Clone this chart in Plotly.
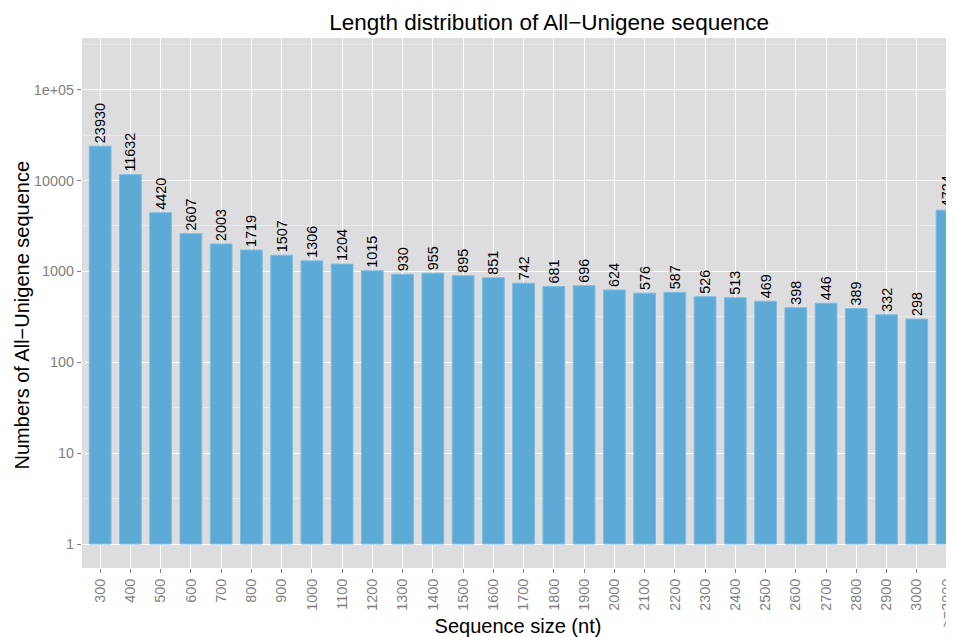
import plotly.graph_objects as go

# length bins (nt) and unigene counts
size_bins = ["300", "400", "500", "600", "700", "800", "900", "1000", "1100",
             "1200", "1300", "1400", "1500", "1600", "1700", "1800", "1900",
             "2000", "2100", "2200", "2300", "2400", "2500", "2600", "2700",
             "2800", "2900", "3000", ">=3000"]
unigene_counts = [23930, 11632, 4420, 2607, 2003, 1719, 1507, 1306, 1204,
                  1015, 930, 955, 895, 851, 742, 681, 696,
                  624, 576, 587, 526, 513, 469, 398, 446,
                  389, 332, 298, 4724]

y_tick_vals = [1, 10, 100, 1000, 10000, 100000]
y_tick_text = ["1", "10", "100", "1000", "10000", "1e+05"]
y_minor_vals = [10 ** (k + 0.5) for k in range(-1, 6)]

FONT = "Liberation Sans, Arial, sans-serif"
GREY_TXT = "#7f7f7f"

# the page body has an 8px margin, so the figure is sized to end at the window edge
fig = go.Figure()
fig.add_trace(
    go.Bar(
        x=size_bins,
        y=unigene_counts,
        base=1,
        width=0.72,
        marker=dict(color="#5daad7", line=dict(color="#7dbde2", width=1)),
        text=[str(v) for v in unigene_counts],
        textposition="outside",
        textangle=-90,
        constraintext="none",
        cliponaxis=False,
        textfont=dict(family=FONT, size=14.4, color="black"),
    )
)

# y title sits a little below the panel centre in the original, so use an annotation
fig.add_annotation(
    text="Numbers of All\u2212Unigene sequence",
    xref="paper", yref="paper",
    x=-0.0694, y=0.4774,
    xanchor="center", yanchor="middle",
    textangle=-90,
    showarrow=False,
    font=dict(family=FONT, size=20, color="black"),
)

fig.update_layout(
    width=946,
    height=629,
    margin=dict(l=74, r=0, t=30, b=69),
    paper_bgcolor="white",
    plot_bgcolor="#dddddf",
    showlegend=False,
    font=dict(family=FONT),
    title=dict(
        text="Length distribution of All\u2212Unigene sequence",
        x=0.572,
        xanchor="center",
        y=0.9777,
        yanchor="middle",
        font=dict(family=FONT, size=22.5, color="black"),
    ),
    xaxis=dict(
        type="category",
        range=[-0.6, 28.23],
        automargin=False,
        showgrid=True,
        gridcolor="white",
        gridwidth=1.3,
        ticks="outside",
        ticklen=4,
        tickcolor=GREY_TXT,
        tickangle=-90,
        tickfont=dict(family=FONT, size=14.4, color=GREY_TXT),
        showline=False,
        zeroline=False,
        title=dict(text="Sequence size (nt)", standoff=9,
                   font=dict(family=FONT, size=20, color="black")),
    ),
    yaxis=dict(
        type="log",
        range=[-0.264, 5.569],
        automargin=False,
        tickmode="array",
        tickvals=y_tick_vals,
        ticktext=y_tick_text,
        showgrid=True,
        gridcolor="white",
        gridwidth=1.3,
        minor=dict(tickmode="array", tickvals=y_minor_vals, showgrid=True,
                   gridcolor="#ebebec", gridwidth=0.6, ticks=""),
        ticks="outside",
        ticklen=4,
        tickcolor=GREY_TXT,
        tickfont=dict(family=FONT, size=14.4, color=GREY_TXT),
        showline=False,
        zeroline=False,
    ),
)

fig.write_html("out.html")
